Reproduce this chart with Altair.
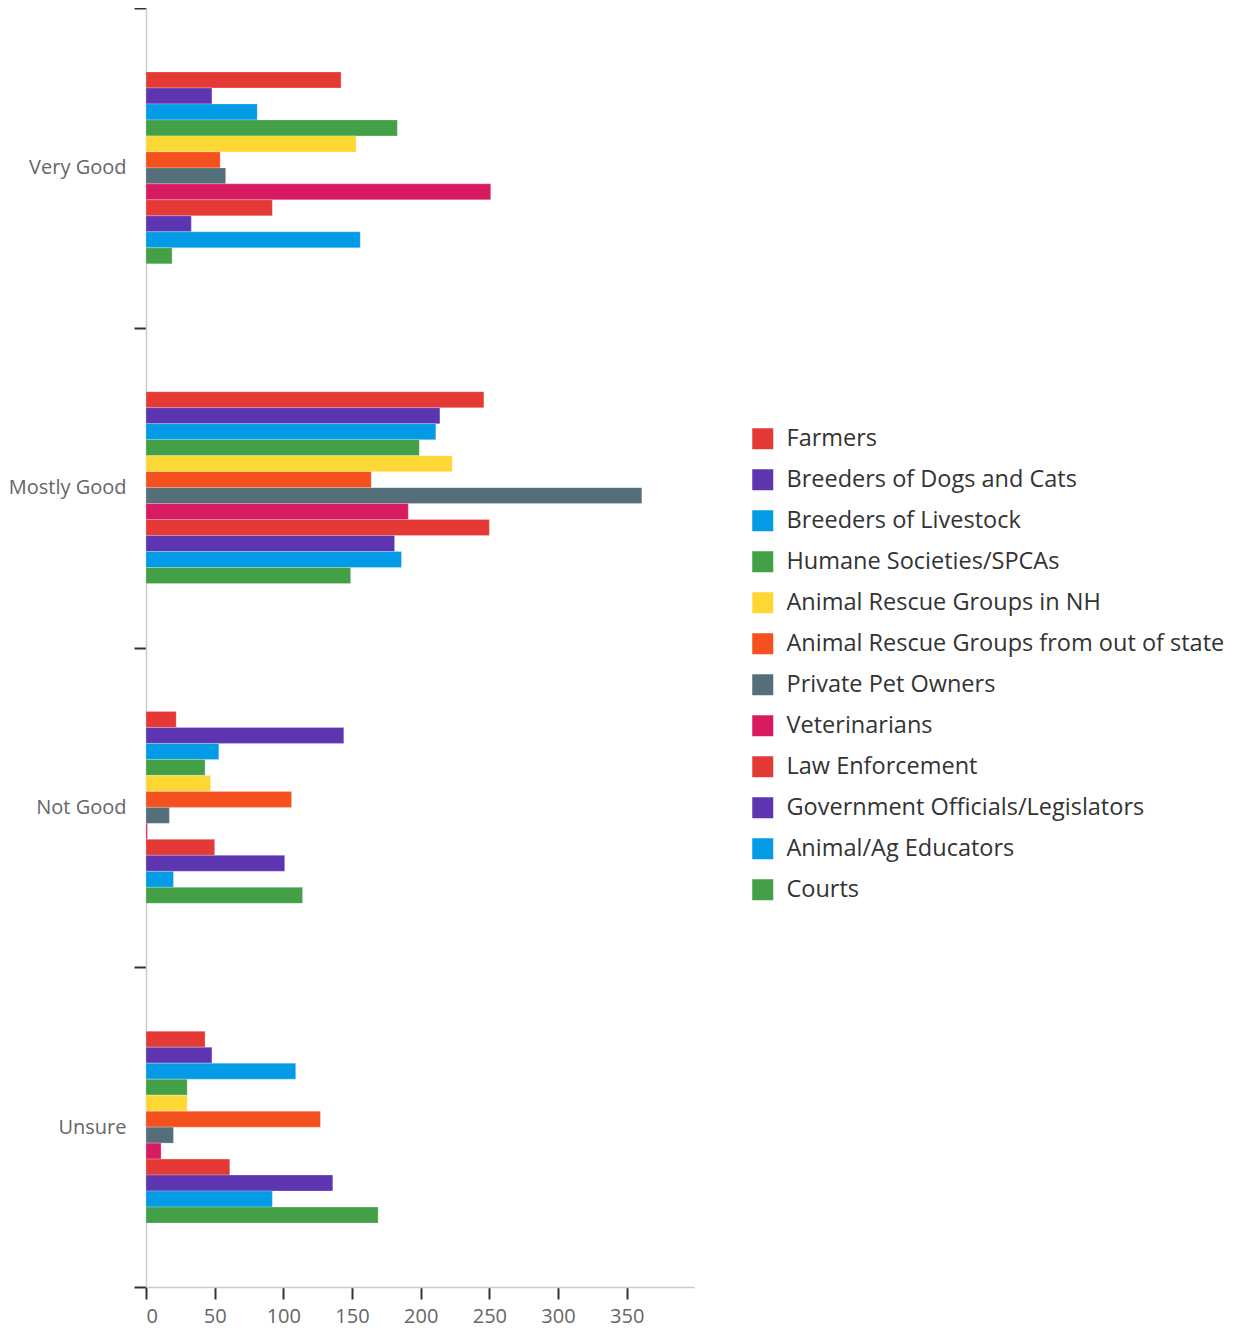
import altair as alt
import pandas as pd

categories = ["Very Good", "Mostly Good", "Not Good", "Unsure"]
series = [
    "Farmers",
    "Breeders of Dogs and Cats",
    "Breeders of Livestock",
    "Humane Societies/SPCAs",
    "Animal Rescue Groups in NH",
    "Animal Rescue Groups from out of state",
    "Private Pet Owners",
    "Veterinarians",
    "Law Enforcement",
    "Government Officials/Legislators",
    "Animal/Ag Educators",
    "Courts",
]
colors = [
    "#E53935", "#5E35B1", "#039BE5", "#43A047", "#FDD835", "#F4511E",
    "#546E7A", "#D81B60", "#E53935", "#5E35B1", "#039BE5", "#43A047",
]
# values per category, in series order
very_good = [142, 48, 81, 183, 153, 54, 58, 251, 92, 33, 156, 19]
mostly_good = [246, 214, 211, 199, 223, 164, 361, 191, 250, 181, 186, 149]
not_good = [22, 144, 53, 43, 47, 106, 17, 1, 50, 101, 20, 114]
unsure = [43, 48, 109, 30, 30, 127, 20, 11, 61, 136, 92, 169]
x_ticks = [0, 50, 100, 150, 200, 250, 300, 350]

rows = []
for cat, vals in zip(categories, [very_good, mostly_good, not_good, unsure]):
    for s, v in zip(series, vals):
        rows.append({"category": cat, "series": s, "value": v})
df = pd.DataFrame(rows)

# empty slots around each group so bars fill the middle of each category band
offset_domain = [f"_pre{i}" for i in range(4)] + series + [f"_post{i}" for i in range(4)]

FONT = "Open Sans"

chart = alt.Chart(df).mark_bar(stroke="white", strokeWidth=0.4, strokeOpacity=0.6).encode(
    y=alt.Y(
        "category:N",
        sort=categories,
        scale=alt.Scale(paddingInner=0, paddingOuter=0),
        axis=alt.Axis(
            title=None,
            tickBand="extent",
            tickSize=12,
            tickWidth=2,
            tickColor="#333333",
            domainColor="#cccccc",
            domainWidth=1.5,
            labelFont=FONT,
            labelFontSize=20,
            labelColor="#666666",
            labelPadding=8,
            grid=False,
        ),
    ),
    yOffset=alt.YOffset(
        "series:N",
        scale=alt.Scale(domain=offset_domain, paddingInner=0, paddingOuter=0.0),
    ),
    x=alt.X(
        "value:Q",
        scale=alt.Scale(domain=[0, 399], nice=False),
        axis=alt.Axis(
            title=None,
            values=x_ticks,
            grid=False,
            tickSize=12,
            tickWidth=2,
            tickColor="#333333",
            domainColor="#cccccc",
            domainWidth=1.5,
            labelFont=FONT,
            labelFontSize=20,
            labelColor="#666666",
            labelPadding=7,
        ),
    ),
    color=alt.Color(
        "series:N",
        sort=series,
        scale=alt.Scale(domain=series, range=colors),
        legend=alt.Legend(
            title=None,
            orient="none",
            legendX=605,
            legendY=419,
            symbolType="square",
            symbolSize=441,
            symbolStrokeWidth=0,
            labelFont=FONT,
            labelFontSize=23.5,
            labelColor="#333333",
            labelOffset=12,
            labelLimit=600,
            rowPadding=16,
        ),
    ),
).properties(
    width=548,
    height=1279,
    autosize=alt.AutoSizeParams(type="none"),
    padding={"left": 138, "top": 0, "right": 537, "bottom": 41},
).configure_view(stroke=None)

chart.save("out.html", embed_options={"renderer": "svg", "actions": False})
